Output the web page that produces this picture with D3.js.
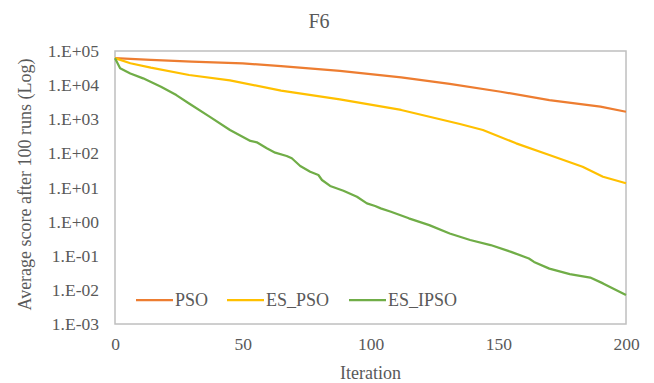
<!DOCTYPE html>
<html>
<head>
<meta charset="utf-8">
<script src="https://cdn.jsdelivr.net/npm/d3@7"></script>
<style>
  body { margin: 0; background: #fff; }
  text { font-family: "Liberation Serif", "Times New Roman", serif; fill: #595959; }
</style>
</head>
<body>
<svg id="chart" width="654" height="383"></svg>
<script>
// values (iteration, average score)
const psoIter = [0, 14, 30, 50, 65, 88, 112, 131, 151, 170, 190, 200];
const psoVals = [6.2e4, 5.45e4, 4.9e4, 4.37e4, 3.6e4, 2.6e4, 1.7e4, 1.08e4, 6.4e3, 3.66e3, 2.33e3, 1.66e3];

const esPsoIter = [0, 6, 14, 29, 45, 65, 88, 112, 135, 144, 157, 170, 183, 191, 200];
const esPsoVals = [6.2e4, 4.37e4, 3.24e4, 1.98e4, 1.38e4, 6.9e3, 3.85e3, 1.87e3, 725, 484, 197, 89.5, 40.5, 20.7, 13.3];

const esIpsoIter = [0, 2, 6, 11, 18, 24, 29, 37, 45, 53, 55.5, 59.4, 62.7, 67.2, 69.2, 72.5, 76.4, 79.6, 81,
  84.2, 89.4, 94.7, 98.6, 101.8, 104, 108, 115, 123, 131, 135, 139, 147, 155, 162, 164, 170, 178, 186, 191, 200];
const esIpsoVals = [6.1e4, 3.1e4, 2.2e4, 1.58e4, 9.0e3, 5.1e3, 2.9e3, 1.19e3, 484, 231, 211, 141, 105, 83.8, 71.8, 42.7, 29, 23.2, 16.6,
  11.1, 8.06, 5.37, 3.44, 2.87, 2.45, 1.95, 1.25, 0.79, 0.45, 0.36, 0.29, 0.206, 0.13, 0.083, 0.066, 0.042, 0.029, 0.023, 0.0155, 0.0071];

const seriesNames = ["PSO", "ES_PSO", "ES_IPSO"];
const seriesColors = ["#ED7D31", "#FFC000", "#70AD47"];
const xTicks = [0, 50, 100, 150, 200];
const yTicks = [1e5, 1e4, 1e3, 1e2, 1e1, 1e0, 1e-1, 1e-2, 1e-3];

const series = [
  psoIter.map((d, i) => ({ x: d, y: psoVals[i] })),
  esPsoIter.map((d, i) => ({ x: d, y: esPsoVals[i] })),
  esIpsoIter.map((d, i) => ({ x: d, y: esIpsoVals[i] })),
];

const margin = { top: 51, left: 115, right: 28, bottom: 59 };
const width = 654, height = 383;

const svg = d3.select("#chart");

const x = d3.scaleLinear().domain([0, 200]).range([margin.left, width - margin.right]);
const y = d3.scaleLog().domain([1e-3, 1e5]).range([height - margin.bottom, margin.top]);

// tick label format like Excel: 1.E+05
const fmt = (v) => {
  const e = Math.round(Math.log10(v));
  const s = Math.abs(e) < 10 ? "0" + Math.abs(e) : "" + Math.abs(e);
  return "1.E" + (e < 0 ? "-" : "+") + s;
};

// plot box
svg.append("rect")
  .attr("x", x(0)).attr("y", y(1e5))
  .attr("width", x(200) - x(0)).attr("height", y(1e-3) - y(1e5))
  .attr("fill", "none").attr("stroke", "#bfbfbf").attr("stroke-width", 1.5);

const yAxis = d3.axisLeft(y).tickValues(yTicks).tickFormat(fmt).tickSize(0).tickPadding(16);
svg.append("g")
  .attr("transform", `translate(${margin.left},0)`)
  .call(yAxis)
  .call((g) => g.select(".domain").remove())
  .selectAll("text").style("font-size", "17.5px").attr("fill", "#595959");

const xAxis = d3.axisBottom(x).tickValues(xTicks).tickSize(0).tickPadding(14);
svg.append("g")
  .attr("transform", `translate(0,${height - margin.bottom})`)
  .call(xAxis)
  .call((g) => g.select(".domain").remove())
  .selectAll("text").style("font-size", "17.5px").attr("fill", "#595959");

const line = d3.line().x((d) => x(d.x)).y((d) => y(d.y));

svg.selectAll(".series")
  .data(series)
  .join("path")
  .attr("class", "series")
  .attr("d", line)
  .attr("fill", "none")
  .attr("stroke", (d, i) => seriesColors[i])
  .attr("stroke-width", 2.25)
  .attr("stroke-linejoin", "round");

// title and axis titles
svg.append("text").attr("x", 319).attr("y", 28).attr("text-anchor", "middle")
  .style("font-size", "20px").text("F6");
svg.append("text").attr("x", x(100)).attr("y", 379).attr("text-anchor", "middle")
  .style("font-size", "18px").text("Iteration");
svg.append("text")
  .attr("transform", `translate(31,${(y(1e5) + y(1e-3)) / 2 - 3}) rotate(-90)`)
  .attr("text-anchor", "middle")
  .style("font-size", "18px").text("Average score after 100 runs (Log)");

// legend
const legendX = [136, 227, 349];
const legend = svg.selectAll(".legend")
  .data(seriesNames)
  .join("g")
  .attr("class", "legend")
  .attr("transform", (d, i) => `translate(${legendX[i]},300)`);
legend.append("line")
  .attr("x1", 0).attr("x2", 37).attr("y1", 0).attr("y2", 0)
  .attr("stroke", (d, i) => seriesColors[i]).attr("stroke-width", 2.25);
legend.append("text")
  .attr("x", 39).attr("y", 6)
  .style("font-size", "18px").text((d) => d);
</script>
</body>
</html>
